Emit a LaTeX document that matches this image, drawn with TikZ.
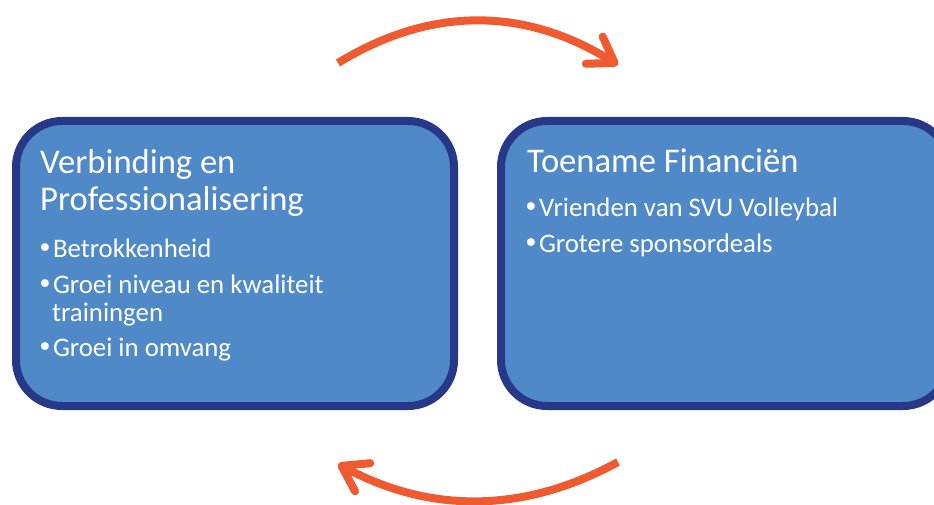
\documentclass[tikz,border=0pt]{standalone}
\usepackage{fontspec}
\setmainfont{Carlito}
\newfontfamily\bulfont{DejaVu Sans}
\usetikzlibrary{arrows.meta}
\definecolor{boxfill}{RGB}{80,137,200}
\definecolor{boxline}{RGB}{40,56,136}
\definecolor{arrowor}{RGB}{240,90,48}
\newcommand\bul{{\bulfont •}}
\begin{document}
\begin{tikzpicture}[x=1pt,y=-1pt,
  box/.style={draw=boxline, fill=boxfill, line width=8pt, rounded corners=46pt,
    inner sep=0pt, outer sep=0pt, anchor=north west},
  head/.style={text=white, font=\fontsize{34.6}{40}\selectfont, anchor=base west, inner sep=0pt},
  item/.style={text=white, font=\fontsize{26.8}{30}\selectfont, anchor=base west, inner sep=0pt},
  cyc/.style={draw=arrowor, line width=8pt, -{Straight Barb[length=24pt,width=32pt,round]}}]
\useasboundingbox (0,0) rectangle (934,505);
\node[box, minimum width=438pt, minimum height=285pt] (L) at (16,121) {};
\node[box, minimum width=448pt, minimum height=285pt] (R) at (501,121) {};
\node[head] (L1) at (40,174) {Verbinding en};
\node[head] (L2) at (40,211) {Professionalisering};
\node[item] (La) at (37,257) {\bul Betrokkenheid};
\node[item] (Lb) at (37,293) {\bul Groei niveau en kwaliteit};
\node[item] (Lc) at (52,321) {trainingen};
\node[item] (Ld) at (37,356) {\bul Groei in omvang};
\node[head] (R1) at (527,173) {Toename Financiën};
\node[item] (Ra) at (523,217) {\bul Vrienden van SVU Volleybal};
\node[item] (Rb) at (523,252) {\bul Grotere sponsordeals};
\coordinate (t1) at (338,63);
\coordinate (t2) at (618,65);
\coordinate (b1) at (618,462);
\coordinate (b2) at (338,464);
\draw[cyc] (t1) .. controls (431,6) and (525,7) .. (t2);
\draw[cyc] (b1) .. controls (525,513) and (431,514) .. (b2);
\end{tikzpicture}
\end{document}
